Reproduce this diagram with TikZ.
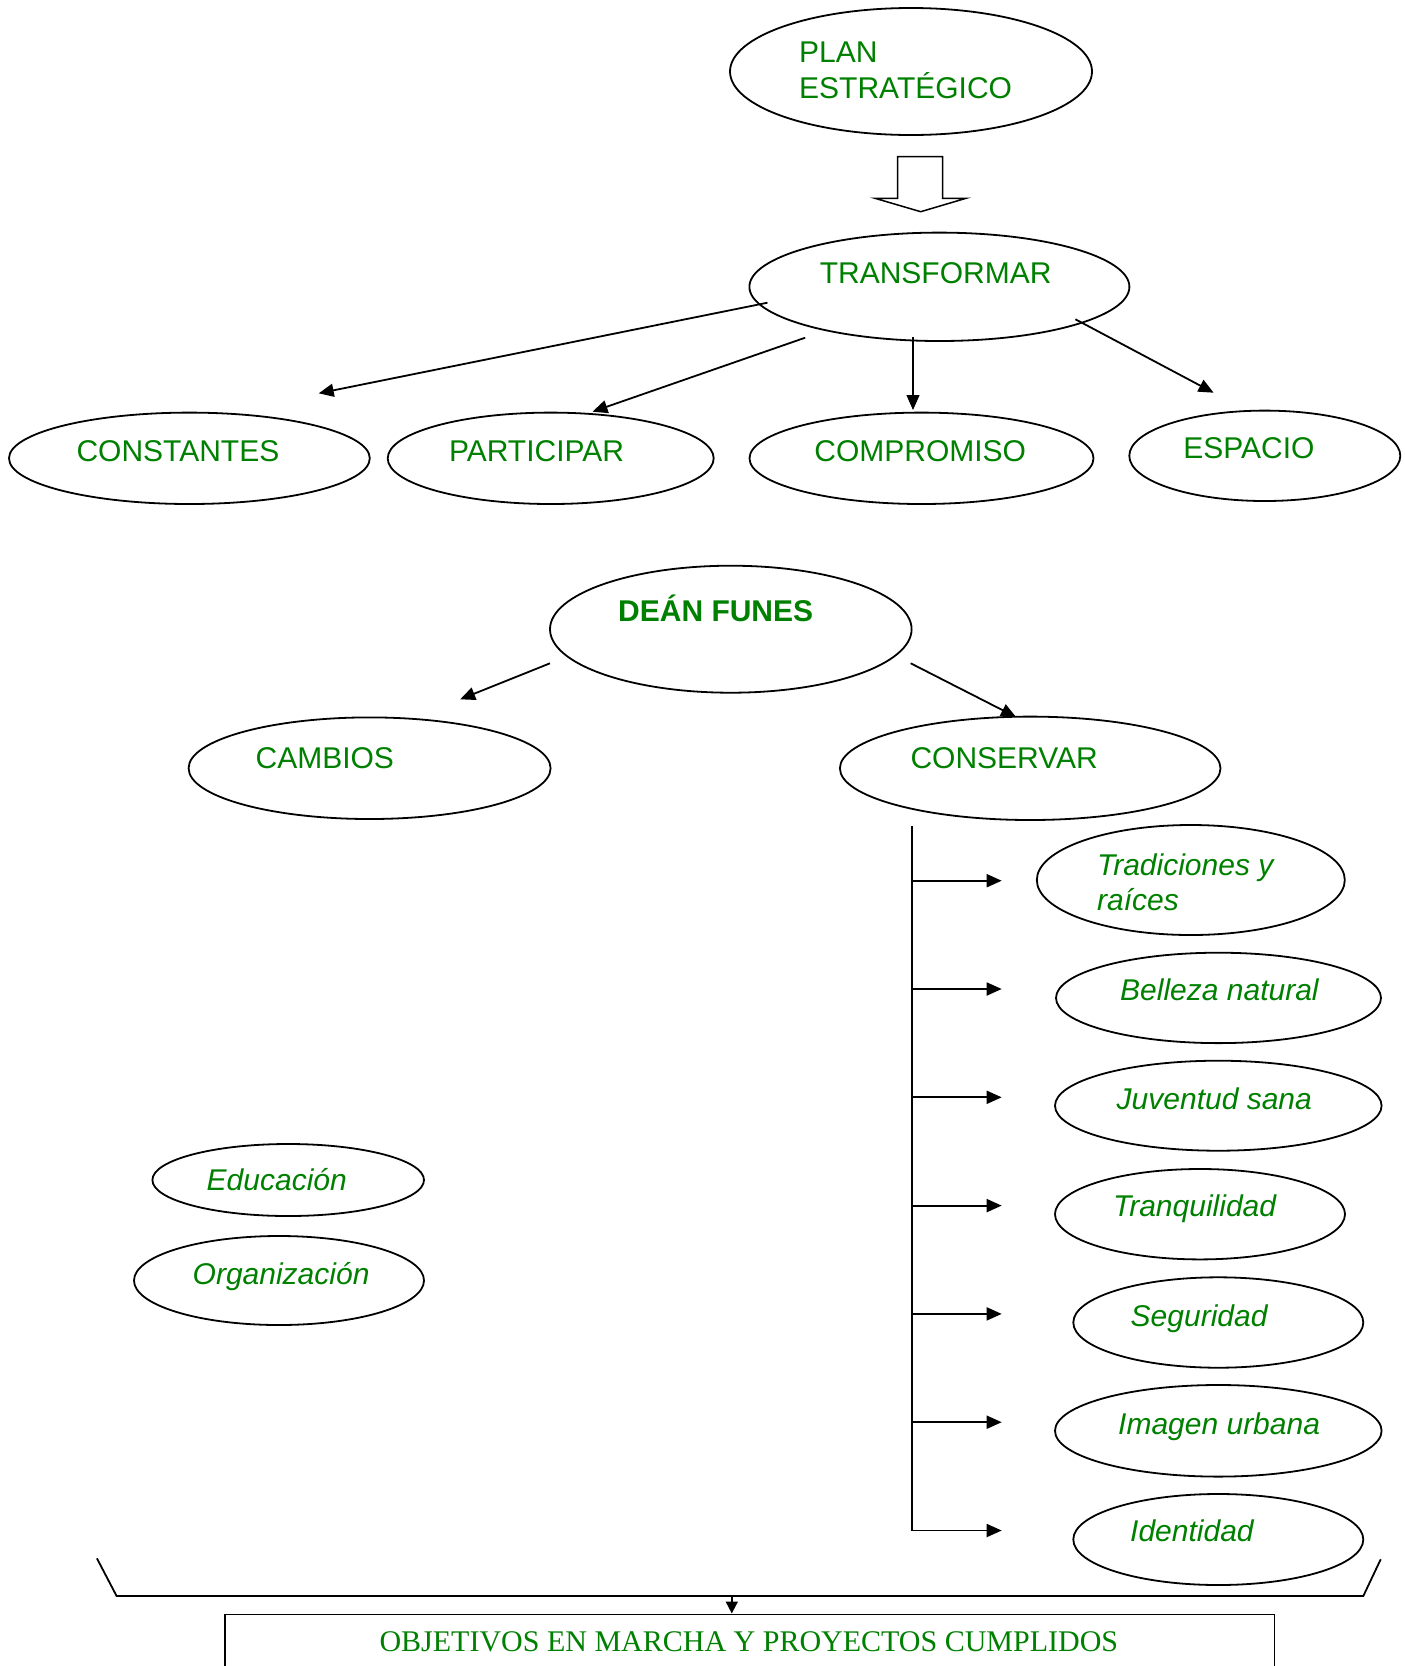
\documentclass[tikz,border=0pt]{standalone}
\usepackage{fontspec}
\setmainfont{Liberation Sans}
\newfontfamily\seriffam{Liberation Serif}
\usetikzlibrary{arrows.meta,shapes.geometric}
\definecolor{txtgreen}{RGB}{0,128,0}

\begin{document}
\begin{tikzpicture}[x=1pt,y=-1pt,
  oval/.style={draw, ellipse, line width=1.8pt, inner sep=0pt},
  lbl/.style={anchor=base west, inner sep=0pt, text=txtgreen,
    font=\fontsize{30}{34.5}\selectfont},
  ilbl/.style={lbl, font=\fontsize{30}{35.5}\selectfont\itshape},
  link/.style={line width=1.8pt, -{Triangle[length=15pt,width=13pt]}},
  thinlink/.style={link, line width=1.2pt},
  frame/.style={line width=1.8pt},
]
\useasboundingbox (0,0) rectangle (1405,1666);

% ---------- ellipses ----------
\node[oval, minimum width=362pt,   minimum height=127pt]  (plan)  at (911,71.5) {};
\node[oval, minimum width=380pt,   minimum height=108.4pt](trans) at (939.4,286.8) {};
\node[oval, minimum width=360.8pt, minimum height=91.4pt] (const) at (189.4,458.3) {};
\node[oval, minimum width=326pt,   minimum height=91.4pt] (part)  at (550.7,458.3) {};
\node[oval, minimum width=344pt,   minimum height=91.4pt] (comp)  at (921.5,458.3) {};
\node[oval, minimum width=271pt,   minimum height=90.4pt] (esp)   at (1264.8,455.8) {};
\node[oval, minimum width=361.6pt, minimum height=127pt]  (dean)  at (730.8,629.2) {};
\node[oval, minimum width=362pt,   minimum height=101.6pt](camb)  at (369.6,768.2) {};
\node[oval, minimum width=380.6pt, minimum height=103.4pt](cons)  at (1030.2,768.3) {};
\node[oval, minimum width=308pt,   minimum height=110pt]  (trad)  at (1190.8,880) {};
\node[oval, minimum width=325pt,   minimum height=90.4pt] (bell)  at (1218.5,997.9) {};
\node[oval, minimum width=326.6pt, minimum height=90pt]   (juv)   at (1218.3,1105.7) {};
\node[oval, minimum width=290pt,   minimum height=90.4pt] (tranq) at (1200,1214.2) {};
\node[oval, minimum width=290pt,   minimum height=90.4pt] (seg)   at (1218.3,1322.5) {};
\node[oval, minimum width=326.6pt, minimum height=91.6pt] (imag)  at (1218.3,1430.8) {};
\node[oval, minimum width=290pt,   minimum height=91pt]   (ident) at (1218.3,1539.5) {};
\node[oval, minimum width=271.6pt, minimum height=72pt]   (educ)  at (288.2,1180) {};
\node[oval, minimum width=290pt,   minimum height=89pt]   (org)   at (279,1280.5) {};

% ---------- labels ----------
\node[lbl] (tplan) at (799,62.3)
  {\begin{tabular}[t]{@{}l@{}}PLAN\\ESTRATÉGICO\end{tabular}};
\node[lbl] (ttrans) at (819.6,283.3) {TRANSFORMAR};
\node[lbl] (tconst) at (76.3,461.7) {CONSTANTES};
\node[lbl] (tpart)  at (448.8,461.7) {PARTICIPAR};
\node[lbl] (tcomp)  at (814.2,461.7) {COMPROMISO};
\node[lbl] (tesp)   at (1183.1,458.3) {ESPACIO};
\node[lbl, font=\fontsize{30}{34.5}\selectfont\bfseries] (tdean) at (618,621) {DEÁN FUNES};
\node[lbl] (tcamb)  at (255.4,768.3) {CAMBIOS};
\node[lbl] (tcons)  at (910.3,768.3) {CONSERVAR};
\node[ilbl] (ttrad) at (1097,875)
  {\begin{tabular}[t]{@{}l@{}}Tradiciones y\\raíces\end{tabular}};
\node[ilbl] (tbell)  at (1120,1000.7) {Belleza natural};
\node[ilbl] (tjuv)   at (1116.5,1109) {Juventud sana};
\node[ilbl] (ttranq) at (1113,1216.7) {Tranquilidad};
\node[ilbl] (tseg)   at (1130.5,1326) {Seguridad};
\node[ilbl] (timag)  at (1118,1434) {Imagen urbana};
\node[ilbl] (tident) at (1130,1541.7) {Identidad};
\node[ilbl] (teduc)  at (206.5,1190) {Educación};
\node[ilbl] (torg)   at (192.5,1284) {Organización};

% ---------- block arrow between the two top ovals ----------
\draw[line width=1.5pt, fill=white]
  (897.7,156.7) -- (942.7,156.7) -- (942.7,198.3) -- (966,198.3)
  -- (920.7,211.7) -- (875,198.3) -- (897.7,198.3) -- cycle;

% ---------- connectors from TRANSFORMAR ----------
\coordinate (s1) at (767.5,302.7);  \coordinate (e1) at (318.7,393.3);
\coordinate (s2) at (805.2,337.7);  \coordinate (e2) at (592.5,411.7);
\coordinate (s3) at (913,337.3);    \coordinate (e3) at (913,410);
\coordinate (s4) at (1075.4,319.3); \coordinate (e4) at (1213.6,392.7);
\draw[link] (s1) -- (e1);
\draw[link] (s2) -- (e2);
\draw[thinlink] (s3) -- (e3);
\draw[link] (s4) -- (e4);

% ---------- connectors from DEÁN FUNES ----------
\coordinate (d1s) at (550,663.3);   \coordinate (d1e) at (460.2,699.3);
\coordinate (d2s) at (910.7,663.3); \coordinate (d2e) at (1016,717);
\draw[link] (d1s) -- (d1e);
\draw[link] (d2s) -- (d2e);

% ---------- trunk and branches under CONSERVAR ----------
\coordinate (trtop) at (911.8,825.8);
\coordinate (trbot) at (911.8,1530.5);
\draw[frame] (trtop) -- (trbot);
\foreach \n/\yy in {trad/880.7, bell/989, juv/1097.3, tranq/1205.6,
                    seg/1313.9, imag/1422.2, ident/1530.5}{
  \coordinate (b\n) at (911.8,\yy);
  \coordinate (h\n) at (1001.7,\yy);
  \draw[link] (b\n) -- (h\n);
}

% ---------- closing bracket and result box ----------
\coordinate (brA) at (96.9,1558.3);
\coordinate (brB) at (116.6,1596);
\coordinate (brC) at (1363.3,1596);
\coordinate (brD) at (1380.7,1559.3);
\coordinate (brM) at (731.8,1596);
\draw[frame] (brA) -- (brB) -- (brC) -- (brD);
\node[draw, frame, anchor=north west, minimum width=1049.3pt,
      minimum height=90pt, inner sep=0pt] (box) at (224.2,1613.5) {};
\node[anchor=base, inner sep=0pt, text=txtgreen,
      font=\seriffam\fontsize{30}{34}\selectfont] (tbox) at (748.9,1651.7)
  {OBJETIVOS EN MARCHA Y PROYECTOS CUMPLIDOS};
\draw[link, -{Triangle[length=12pt,width=12pt]}] (brM) -- (brM |- box.north);
\end{tikzpicture}
\end{document}
